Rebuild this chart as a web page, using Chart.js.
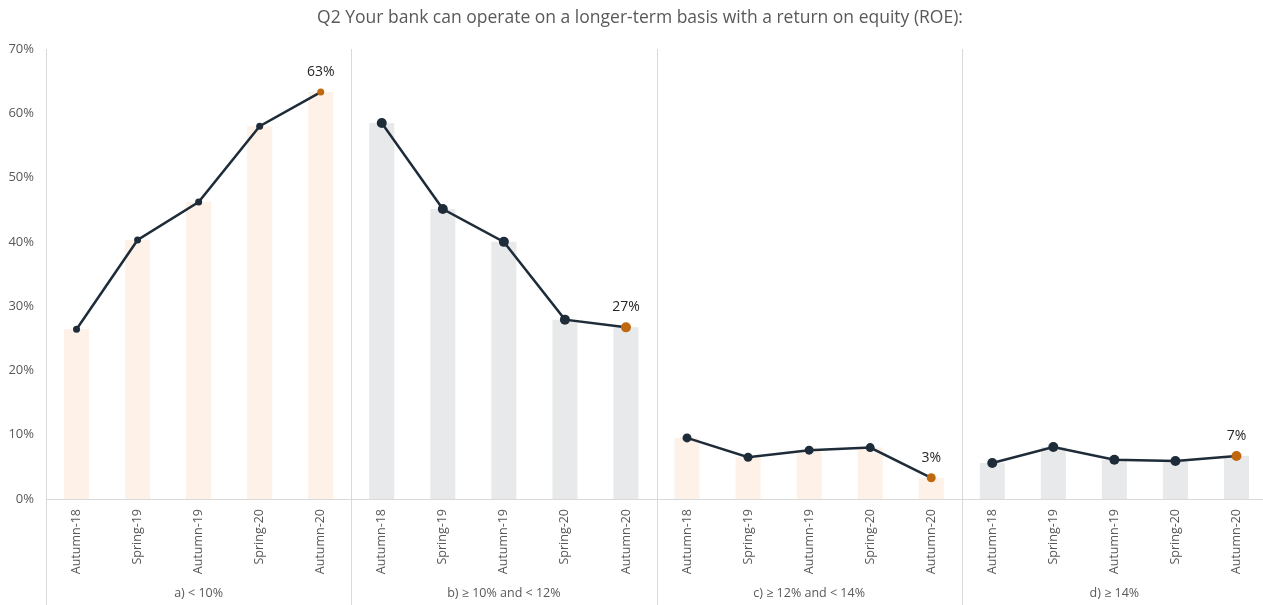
<!DOCTYPE html>
<html>
<head>
<meta charset="utf-8">
<script src="https://cdn.jsdelivr.net/npm/chart.js@4"></script>
<style>
html, body { margin: 0; padding: 0; background: #fff; overflow: hidden; }
</style>
</head>
<body>
<canvas id="roeChart" width="1272" height="605"></canvas>
<script>
// DATA
const periods = ['Autumn-18', 'Spring-19', 'Autumn-19', 'Spring-20', 'Autumn-20'];
const groupNames = ['a) < 10%', 'b) ≥ 10% and < 12%', 'c) ≥ 12% and < 14%', 'd) ≥ 14%'];
const groupA = [26.4, 40.3, 46.2, 58.0, 63.3];
const groupB = [58.5, 45.1, 40.0, 27.9, 26.7];
const groupC = [9.5, 6.5, 7.6, 8.0, 3.3];
const groupD = [5.6, 8.1, 6.1, 5.9, 6.7];
const yTicks = [0, 10, 20, 30, 40, 50, 60, 70];
const titleText = 'Q2 Your bank can operate on a longer-term basis with a return on equity (ROE):';

const groups = [groupA, groupB, groupC, groupD];
const barColors = ['#FDF1E8', '#E8E9EA', '#FDF1E8', '#E8E9EA'];
const pointSizes = [3.5, 5, 4.5, 5];
const navy = '#1E2B38';
const orange = '#C0680F';
const gridGrey = '#D9D9D9';
const font = "'Open Sans', sans-serif";

const labels = [];
groups.forEach(() => periods.forEach(p => labels.push(p)));
const barValues = [].concat(...groups);
const barFill = [];
groups.forEach((g, gi) => g.forEach(() => barFill.push(barColors[gi])));

const lineSets = groups.map((g, gi) => {
    const data = labels.map(() => null);
    g.forEach((v, i) => { data[gi * periods.length + i] = v; });
    return {
        type: 'line',
        data: data,
        borderColor: navy,
        borderWidth: 2.5,
        pointRadius: pointSizes[gi],
        pointBorderWidth: 0,
        pointBackgroundColor: data.map((v, i) => i === gi * periods.length + periods.length - 1 ? orange : navy),
        spanGaps: false,
        order: 1
    };
});

// title, group separators + group names, end labels
const groupPlugin = {
    id: 'groupPlugin',
    afterDraw(chart) {
        const x = chart.scales.x;
        const area = chart.chartArea;
        const ctx = chart.ctx;
        const n = periods.length;
        const step = x.getPixelForValue(1) - x.getPixelForValue(0);
        ctx.save();
        ctx.fillStyle = '#595959';
        ctx.font = "17.5px " + font;
        ctx.textAlign = 'center';
        ctx.textBaseline = 'middle';
        ctx.fillText(titleText, 640, 18);

        ctx.strokeStyle = gridGrey;
        ctx.lineWidth = 1;
        for (let g = 0; g < groups.length; g++) {
            const left = x.getPixelForValue(g * n) - step / 2;
            ctx.beginPath();
            ctx.moveTo(Math.round(left) + 0.5, area.top);
            ctx.lineTo(Math.round(left) + 0.5, chart.height);
            ctx.stroke();
            const mid = left + step * n / 2;
            ctx.fillStyle = '#595959';
            ctx.font = "12.5px " + font;
            ctx.fillText(groupNames[g], mid, 593);
        }
        ctx.restore();
    },
    afterDatasetsDraw(chart) {
        const ctx = chart.ctx;
        ctx.save();
        ctx.fillStyle = '#262626';
        ctx.font = "14px " + font;
        ctx.textAlign = 'center';
        ctx.textBaseline = 'middle';
        lineSets.forEach((ds, gi) => {
            const meta = chart.getDatasetMeta(gi + 1);
            const idx = gi * periods.length + periods.length - 1;
            const pt = meta.data[idx];
            ctx.fillText(Math.round(ds.data[idx]) + '%', pt.x, pt.y - 20);
        });
        ctx.restore();
    }
};

const ctx = document.getElementById('roeChart').getContext('2d');
const chart = new Chart(ctx, {
    type: 'bar',
    data: {
        labels: labels,
        datasets: [{
            type: 'bar',
            data: barValues,
            backgroundColor: barFill,
            barPercentage: 0.41,
            categoryPercentage: 1,
            order: 2
        }].concat(lineSets)
    },
    options: {
        responsive: false,
        animation: false,
        layout: { padding: { left: 0, right: 0, top: 49, bottom: 0 } },
        plugins: {
            legend: { display: false },
            tooltip: { enabled: false },
            title: { display: false }
        },
        scales: {
            x: {
                grid: { display: false },
                border: { display: true, color: gridGrey },
                ticks: {
                    color: '#595959',
                    font: { family: font, size: 12.5 },
                    maxRotation: 90,
                    minRotation: 90,
                    autoSkip: false,
                    padding: 2
                },
                afterFit(scale) { scale.height = 106; }
            },
            y: {
                min: 0,
                max: 70,
                afterBuildTicks(scale) { scale.ticks = yTicks.map(v => ({ value: v })); },
                grid: { display: false },
                border: { display: false },
                ticks: {
                    color: '#595959',
                    font: { family: font, size: 13 },
                    padding: 4,
                    callback: v => v + '%'
                },
                afterFit(scale) { scale.width = 46; }
            }
        }
    },
    plugins: [groupPlugin]
});
</script>
</body>
</html>
